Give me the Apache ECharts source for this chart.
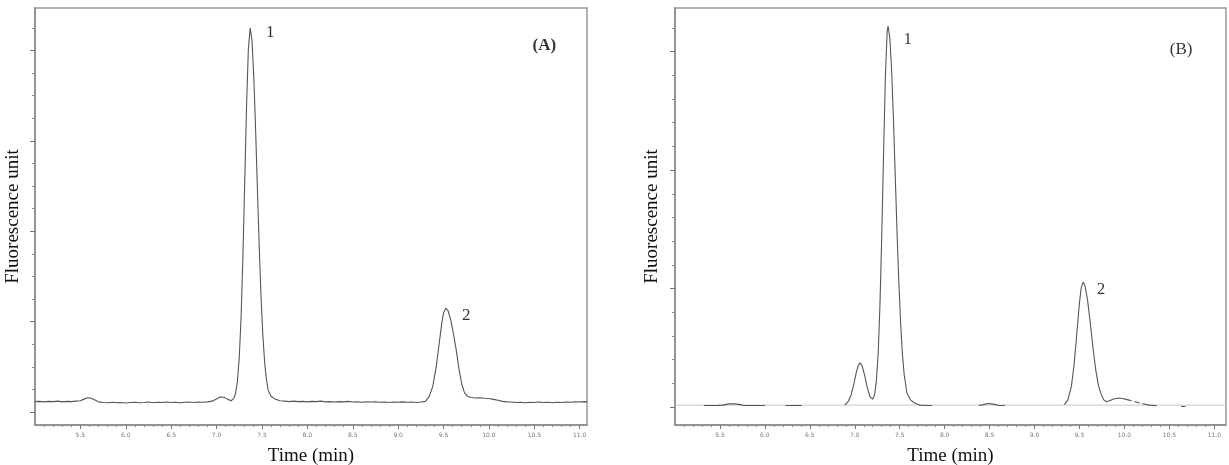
<!DOCTYPE html>
<html>
<head>
<meta charset="utf-8">
<script src="https://cdn.jsdelivr.net/npm/echarts@6/dist/echarts.min.js"></script>
<style>
html,body{margin:0;padding:0;background:#fff;}
#c{width:1229px;height:465px;}
</style>
</head>
<body>
<div id="c"></div>
<script>
// ---- data (time in min, fluorescence in arbitrary units) ----
const traceA = [
[5.00,0.46],[5.05,0.47],[5.10,0.45],[5.15,0.47],[5.20,0.46],[5.25,0.48],[5.30,0.45],[5.35,0.47],[5.40,0.46],[5.45,0.48],
[5.50,0.50],[5.54,0.57],[5.58,0.63],[5.62,0.61],[5.66,0.53],[5.70,0.45],[5.75,0.42],[5.80,0.41],[5.85,0.43],[5.90,0.41],
[5.95,0.42],[6.00,0.40],[6.05,0.42],[6.10,0.43],[6.15,0.41],[6.20,0.42],[6.25,0.44],[6.30,0.41],[6.35,0.43],[6.40,0.42],
[6.45,0.44],[6.50,0.42],[6.55,0.43],[6.60,0.41],[6.65,0.43],[6.70,0.44],[6.75,0.42],[6.80,0.44],[6.85,0.43],[6.90,0.45],
[6.95,0.48],[7.00,0.58],[7.04,0.66],[7.08,0.65],[7.12,0.57],[7.16,0.50],[7.19,0.60],[7.21,0.84],[7.23,1.37],[7.25,2.42],
[7.27,4.20],[7.29,6.87],[7.31,10.17],[7.33,13.51],[7.35,16.06],[7.37,17.00],[7.39,16.44],[7.41,14.82],[7.43,12.49],[7.45,9.84],
[7.47,7.27],[7.49,5.07],[7.51,3.37],[7.53,2.17],[7.55,1.40],[7.57,0.94],[7.60,0.70],[7.64,0.58],[7.70,0.50],[7.75,0.48],
[7.80,0.46],[7.85,0.48],[7.90,0.46],[7.95,0.47],[8.00,0.45],[8.05,0.47],[8.10,0.46],[8.15,0.48],[8.20,0.45],[8.25,0.46],
[8.30,0.44],[8.35,0.46],[8.40,0.45],[8.45,0.47],[8.50,0.44],[8.55,0.45],[8.60,0.43],[8.65,0.45],[8.70,0.44],[8.75,0.45],
[8.80,0.43],[8.85,0.44],[8.90,0.42],[8.95,0.44],[9.00,0.43],[9.05,0.45],[9.10,0.43],[9.15,0.44],[9.20,0.42],[9.25,0.44],
[9.30,0.47],[9.34,0.67],[9.38,1.11],[9.42,2.02],[9.45,2.97],[9.48,3.92],[9.50,4.38],[9.525,4.60],[9.55,4.48],[9.58,4.07],
[9.61,3.44],[9.64,2.74],[9.67,1.90],[9.70,1.25],[9.73,0.86],[9.76,0.70],[9.80,0.64],[9.85,0.62],[9.90,0.63],[9.95,0.61],
[10.00,0.60],[10.05,0.56],[10.10,0.52],[10.15,0.47],[10.20,0.45],[10.25,0.44],[10.30,0.42],[10.35,0.43],[10.40,0.41],[10.45,0.43],
[10.50,0.42],[10.55,0.44],[10.60,0.42],[10.65,0.43],[10.70,0.41],[10.75,0.43],[10.80,0.42],[10.85,0.44],[10.90,0.43],[10.95,0.45],
[11.00,0.44],[11.05,0.46],[11.08,0.45]
];
const traceB = [
[5.32,0.06],[5.40,0.06],[5.48,0.07],[5.53,0.08],[5.60,0.13],[5.66,0.13],[5.73,0.10],[5.76,0.06],[5.85,0.06],[5.95,0.06],[6.00,0.06],
null,
[6.23,0.06],[6.32,0.06],[6.41,0.06],
null,
[6.89,0.08],[6.93,0.25],[6.96,0.52],[6.99,0.97],[7.02,1.51],[7.04,1.76],[7.06,1.86],[7.08,1.76],[7.11,1.34],[7.14,0.81],
[7.17,0.43],[7.20,0.33],[7.22,0.51],[7.24,1.08],[7.26,2.24],[7.28,4.27],[7.30,7.20],[7.32,10.66],[7.34,13.88],[7.36,15.83],
[7.37,16.08],[7.39,15.58],[7.41,14.20],[7.43,12.16],[7.45,9.79],[7.47,7.40],[7.49,5.28],[7.51,3.54],[7.53,2.24],[7.55,1.35],
[7.58,0.59],[7.62,0.30],[7.66,0.18],[7.72,0.08],[7.80,0.06],[7.86,0.06],
null,
[8.38,0.06],[8.43,0.10],[8.48,0.15],[8.54,0.12],[8.60,0.07],[8.67,0.06],
null,
[9.33,0.10],[9.37,0.29],[9.41,0.87],[9.44,1.79],[9.47,3.08],[9.50,4.41],[9.52,5.04],[9.54,5.27],[9.56,5.14],[9.59,4.51],
[9.62,3.55],[9.65,2.50],[9.68,1.59],[9.71,0.92],[9.74,0.55],[9.77,0.30],[9.80,0.22],[9.84,0.27],[9.88,0.34],[9.93,0.38],
[9.98,0.36],[10.03,0.31],[10.08,0.26],
null,
[10.11,0.23],[10.17,0.17],
null,
[10.20,0.14],[10.28,0.08],[10.36,0.05],
null,
[10.63,0.02],[10.68,0.02]
];
const baselineB = 0.08;

// tick labels (min)
const xTickLabels = [5.5,6.0,6.5,7.0,7.5,8.0,8.5,9.0,9.5,10.0,10.5,11.0];
const xMinorTicks = [];
for (let i = 51; i <= 110; i++) { if (i % 5 !== 0) xMinorTicks.push(i / 10); }
const yMajorA = [0,4,8,12,16];
const yMinorA = [1,2,3,5,6,7,9,10,11,13,14,15,17];
const yMajorB = [0,5,10,15];
const yMinorB = [1,2,3,4,6,7,8,9,11,12,13,14,16];

// annotations [time, value, text]
const notesA = [[7.59,16.8,'1'],[9.75,4.25,'2'],[10.61,16.2,'(A)']];
const notesB = [[7.59,15.5,'1'],[9.74,4.94,'2'],[10.63,15.1,'(B)']];

const serif = 'Liberation Serif';
const axisCol = '#8a8a8a';

function xAxes(gi, max) {
  return [{
    type:'value', gridIndex:gi, min:5.0, max:max, position:'bottom',
    axisLine:{show:true, onZero:false, lineStyle:{color:axisCol, width:1.5}},
    axisTick:{show:true, customValues:xTickLabels, length:4, lineStyle:{color:'#777'}},
    axisLabel:{show:true, customValues:xTickLabels, formatter:v=>v.toFixed(1), fontSize:6, color:'#777', margin:7, fontFamily:'DejaVu Sans'},
    splitLine:{show:false},
    name:'Time (min)', nameLocation:'middle', nameGap:22,
    nameTextStyle:{fontFamily:serif, fontSize:19, color:'#111'}
  },{
    type:'value', gridIndex:gi, min:5.0, max:max, position:'bottom',
    axisLine:{show:false, onZero:false},
    axisTick:{show:true, customValues:xMinorTicks, length:2, lineStyle:{color:'#888'}},
    axisLabel:{show:false}, splitLine:{show:false}
  }];
}
function yAxes(gi, min, max, majors, minors, gap) {
  return [{
    type:'value', gridIndex:gi, min:min, max:max, position:'left',
    axisLine:{show:true, onZero:false, lineStyle:{color:axisCol, width:1.5}},
    axisTick:{show:true, customValues:majors, length:5, lineStyle:{color:'#777'}},
    axisLabel:{show:false}, splitLine:{show:false},
    name:'Fluorescence unit', nameLocation:'middle', nameGap:gap, nameRotate:90,
    nameTextStyle:{fontFamily:serif, fontSize:19, color:'#111'}
  },{
    type:'value', gridIndex:gi, min:min, max:max, position:'left',
    axisLine:{show:false, onZero:false},
    axisTick:{show:true, customValues:minors, length:3, lineStyle:{color:'#888'}},
    axisLabel:{show:false}, splitLine:{show:false}
  }];
}
function noteSeries(arr, xi, yi, boldLast) {
  return {
    type:'scatter', xAxisIndex:xi, yAxisIndex:yi, symbol:'circle', symbolSize:1,
    itemStyle:{color:'rgba(0,0,0,0)'}, z:5, silent:true,
    data:arr.map((n,i)=>({
      value:[n[0],n[1]],
      label:{show:true, formatter:n[2], position:'inside', fontFamily:serif, fontSize:17, color:'#000',
        fontWeight:(boldLast && i===arr.length-1)?'bold':'normal'}
    }))
  };
}

const chart = echarts.init(document.getElementById('c'), null, {renderer:'canvas'});
chart.setOption({
  animation:false,
  backgroundColor:'#fff',
  grid:[
    {left:35, right:642, top:8, bottom:40, show:true, borderColor:'#999', borderWidth:1.5, outerBoundsMode:'none', containLabel:false},
    {left:675, right:3, top:8, bottom:40, show:true, borderColor:'#999', borderWidth:1.5, outerBoundsMode:'none', containLabel:false}
  ],
  xAxis:[...xAxes(0, 11.08), ...xAxes(1, 11.13)],
  yAxis:[...yAxes(0, -0.575, 17.88, yMajorA, yMinorA, 12), ...yAxes(1, -0.76, 16.84, yMajorB, yMinorB, 13)],
  series:[
    {type:'line', xAxisIndex:0, yAxisIndex:0, data:traceA, showSymbol:false, symbol:'none',
      lineStyle:{color:'#555', width:1.1}, z:3},
    {type:'line', xAxisIndex:2, yAxisIndex:2, data:[[5.0,baselineB],[11.13,baselineB]], showSymbol:false, symbol:'none',
      lineStyle:{color:'#c8c8c8', width:1}, z:2},
    {type:'line', xAxisIndex:2, yAxisIndex:2, data:traceB, showSymbol:false, symbol:'none', connectNulls:false,
      lineStyle:{color:'#555', width:1.1}, z:3},
    noteSeries(notesA, 0, 0, true),
    noteSeries(notesB, 2, 2, false)
  ]
});
</script>
</body>
</html>
